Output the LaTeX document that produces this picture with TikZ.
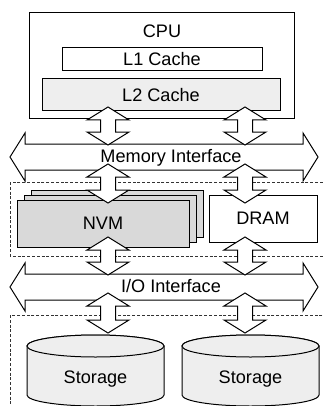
\documentclass[tikz,border=0pt]{standalone}
\usepackage{fontspec}
\setmainfont{Liberation Sans}
\definecolor{cachefill}{HTML}{EEEEEE}
\definecolor{nvmfill}{HTML}{D9D9D9}

% vertical block arrow: x, upper tip, lower tip
\newcommand{\vbus}[3]{%
  \draw[blockarrow] (#1,#2) -- (#1+21,#2+13) -- (#1+7.5,#2+13) -- (#1+7.5,#3-13)
    -- (#1+21,#3-13) -- (#1,#3) -- (#1-21,#3-13) -- (#1-7.5,#3-13)
    -- (#1-7.5,#2+13) -- (#1-21,#2+13) -- cycle;}
% horizontal bus: centre line y
\newcommand{\hbus}[1]{%
  \draw[blockarrow] (10,#1) -- (25,#1-24) -- (25,#1-13) -- (303,#1-13) -- (303,#1-24)
    -- (318,#1) -- (303,#1+24) -- (303,#1+13) -- (25,#1+13) -- (25,#1+24) -- cycle;}

\begin{document}
\begin{tikzpicture}[x=0.75pt, y=-0.75pt,
    font=\fontsize{13.6}{16}\selectfont,
    box/.style={draw, line width=0.75pt},
    blockarrow/.style={draw, fill=white, line width=0.75pt, line join=miter},
    region/.style={draw=black!80, line width=0.7pt, dash pattern=on 2.2pt off 1.4pt},
    disk/.style={draw, fill=cachefill, line width=0.75pt}]
  \useasboundingbox (0,0) rectangle (324,406);

  % processor with its caches
  \draw[box] (29,13) rectangle (294,119);
  \node (cpu) at (162,31) {CPU};
  \draw[box] (62,48) rectangle (262,71);
  \node (l1) at (162,59.5) {L1 Cache};
  \draw[box, fill=cachefill] (42,79) rectangle (280,111);
  \node (l2) at (161,95) {L2 Cache};

  % memory and storage regions
  \draw[region] (10,182) rectangle (330,256);
  \draw[region] (10,315) rectangle (330,420);

  \foreach \d in {2,1,0}
    \draw[box, fill=nvmfill] (17+7*\d,200-5*\d) rectangle (189+7*\d,247-5*\d);
  \node (nvm) at (103,223.5) {NVM};
  \draw[box, fill=white] (209,195) rectangle (317,242);
  \node (dram) at (263,218.5) {DRAM};

  \foreach \c/\name in {95.5/stoA, 250.5/stoB} {
    \filldraw[disk] (\c-68.5,346) -- (\c-68.5,395)
      arc[start angle=180, end angle=0, x radius=68.5, y radius=11]
      -- (\c+68.5,346)
      arc[start angle=0, end angle=-180, x radius=68.5, y radius=11] -- cycle;
    \draw[disk] (\c,346) ellipse[x radius=68.5, y radius=11];
    \node (\name) at (\c,379) {Storage};
  }

  % buses
  \hbus{157}
  \node[anchor=base] (memif) at (171,162.7) {Memory Interface};
  \hbus{287}
  \node[anchor=base] (ioif) at (171,292.5) {I/O Interface};

  \foreach \x in {108,245}
    \foreach \a/\b in {107/145, 164/203, 237/275, 293/333}
      \vbus{\x}{\a}{\b};
\end{tikzpicture}
\end{document}
